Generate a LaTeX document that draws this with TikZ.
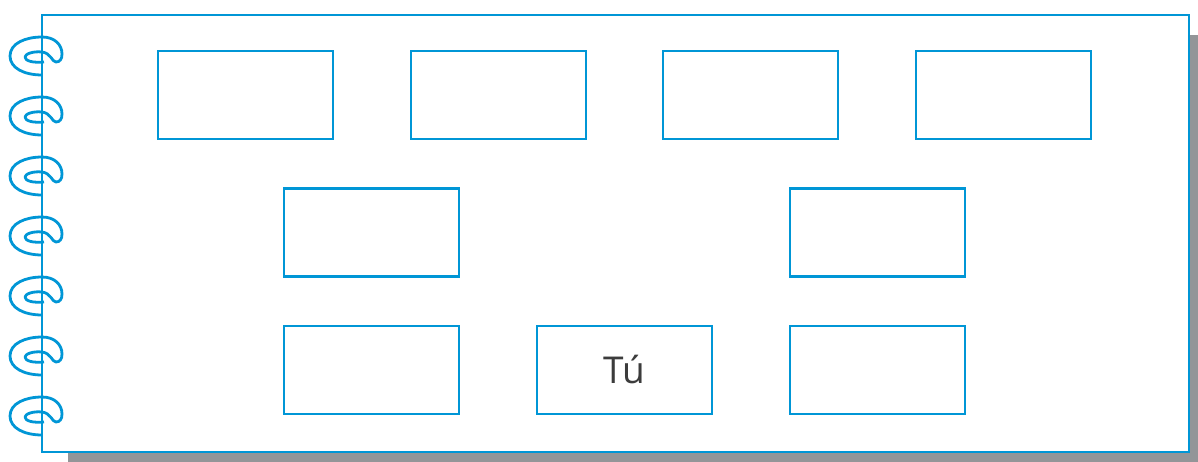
\documentclass[tikz,border=0pt]{standalone}
\usepackage{fontspec}
\setmainfont{Open Sans}
\definecolor{blu}{RGB}{0,150,214}
\definecolor{shadowgray}{RGB}{147,149,152}
\definecolor{txt}{RGB}{60,60,60}
\begin{document}
\begin{tikzpicture}[x=1pt,y=-1pt,
  card/.style={draw=blu,line width=2.8pt,fill=white,minimum width=175pt,minimum height=88pt,inner sep=0pt,font=\fontsize{37}{44}\selectfont,text=txt},
  wire/.style={draw=blu,line width=2.8pt}]
\useasboundingbox (0,0) rectangle (1198,462);
\fill[shadowgray] (68,35) rectangle (1198,462);
\fill[white] (42,15) rectangle (1189,452);
\draw[wire] (42,452) -- (42,15) -- (1189,15) -- (1189,452) -- cycle;
\foreach \t in {37,97,157,217,277,337,397}{
  \draw[wire,line join=round] (42,\t+38)
    .. controls (24,\t+38) and (10,\t+31) .. (10,\t+19)
    .. controls (10,\t+6) and (26,\t+0) .. (42,\t+0)
    .. controls (55,\t+0) and (62,\t+8) .. (62,\t+17)
    .. controls (62,\t+22) and (60,\t+25) .. (56,\t+25)
    .. controls (52,\t+25) and (51,\t+16) .. (42,\t+15)
    .. controls (33,\t+14) and (25,\t+17) .. (25,\t+20)
    .. controls (25,\t+24) and (33,\t+26) .. (44,\t+25);
}
\node[card] (a1) at (245.5,95) {};
\node[card] (a2) at (498.5,95) {};
\node[card] (a3) at (750.5,95) {};
\node[card] (a4) at (1003.5,95) {};
\node[card] (b1) at (371.5,232.5) {};
\node[card] (b2) at (877.5,232.5) {};
\node[card] (c1) at (371.5,370) {};
\node[card] (c2) at (624.5,370) {\raisebox{-2pt}{Tú}};
\node[card] (c3) at (877.5,370) {};
\end{tikzpicture}
\end{document}
